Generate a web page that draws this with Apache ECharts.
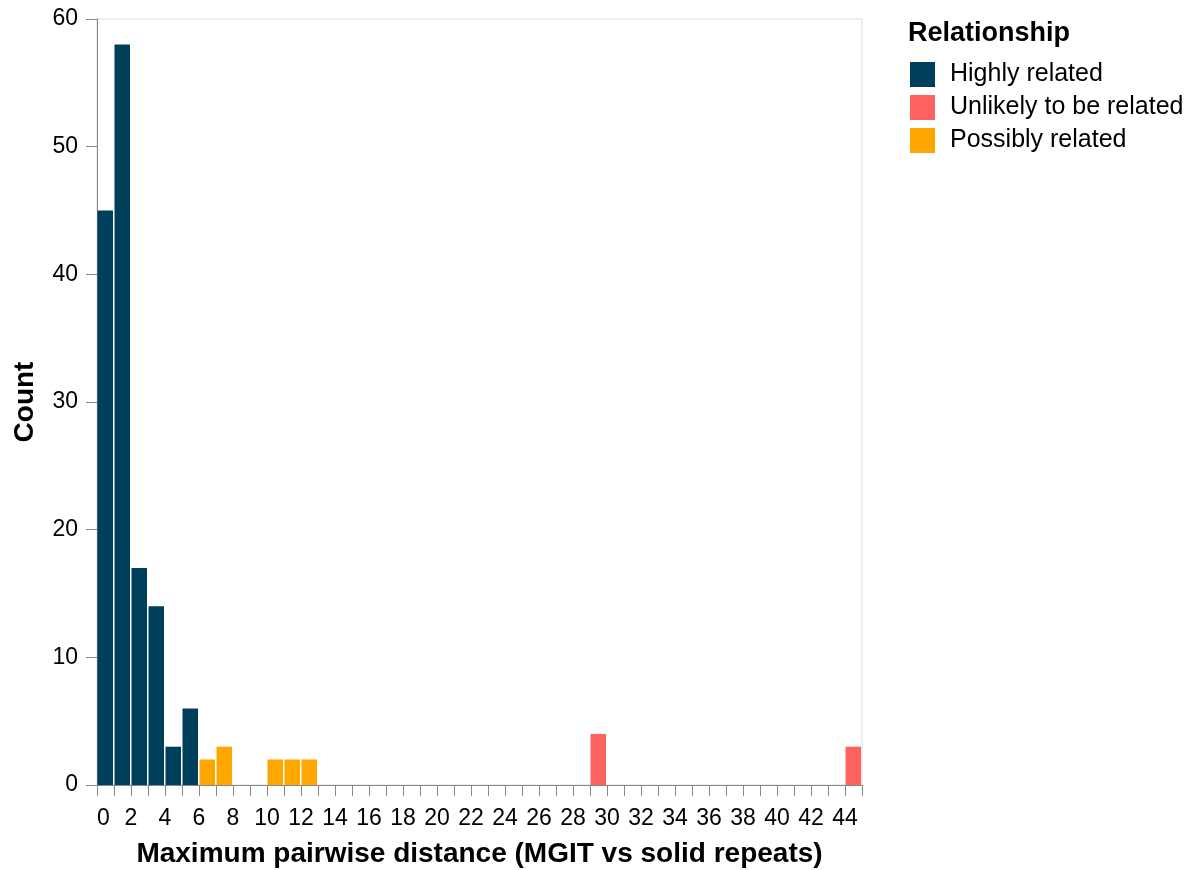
<!DOCTYPE html>
<html><head><meta charset="utf-8">
<script src="https://cdn.jsdelivr.net/npm/echarts@6/dist/echarts.min.js"></script>
<style>html,body{margin:0;padding:0;background:#fff}#c{width:1195px;height:870px}</style>
</head><body><div id="c"></div>
<script>
const seriesNames = ['Highly related', 'Unlikely to be related', 'Possibly related'];
const seriesColors = ['#003f5c', '#ff6361', '#ffa600'];
const highlyX = [0, 1, 2, 3, 4, 5];
const highlyY = [45, 58, 17, 14, 3, 6];
const unlikelyX = [29, 44];
const unlikelyY = [4, 3];
const possiblyX = [6, 7, 10, 11, 12];
const possiblyY = [2, 3, 2, 2, 2];
const xMin = 0, xMax = 45;
const yTicks = [0, 10, 20, 30, 40, 50, 60];

const font = 'Liberation Sans, Arial, Helvetica, sans-serif';
function pairs(xs, ys) { return xs.map((x, i) => [x, ys[i]]); }
function renderBin(params, api) {
  const x = api.value(0), y = api.value(1);
  const p0 = api.coord([x, y]);
  const p1 = api.coord([x + 1, 0]);
  return {
    type: 'rect',
    shape: { x: p0[0] + 0.5, y: p0[1], width: p1[0] - p0[0] - 1.5, height: p1[1] - p0[1] },
    style: { fill: api.visual('color') }
  };
}
const dataSets = [pairs(highlyX, highlyY), pairs(unlikelyX, unlikelyY), pairs(possiblyX, possiblyY)];
const chart = echarts.init(document.getElementById('c'), null, { renderer: 'canvas' });
chart.setOption({
  animation: false,
  backgroundColor: '#fff',
  color: seriesColors,
  title: {
    text: 'Relationship', left: 908, top: 20, padding: 0,
    textStyle: { fontFamily: font, fontSize: 27, fontWeight: 'bold', color: '#000' }
  },
  legend: {
    orient: 'vertical', left: 910, top: 62, padding: 0,
    itemWidth: 25, itemHeight: 25, itemGap: 8, icon: 'rect',
    data: seriesNames,
    textStyle: { fontFamily: font, fontSize: 25, color: '#000', padding: [0, 0, 0, 10] }
  },
  grid: {
    left: 97, right: 333, top: 19, bottom: 85, containLabel: false, outerBoundsMode: 'none',
    show: true, borderColor: '#ddd', borderWidth: 1
  },
  xAxis: {
    type: 'value', min: xMin, max: xMax, interval: 1,
    name: 'Maximum pairwise distance (MGIT vs solid repeats)',
    nameLocation: 'middle', nameGap: 55,
    nameTextStyle: { fontFamily: font, fontSize: 28, fontWeight: 'bold', color: '#000' },
    axisLine: { show: true, lineStyle: { color: '#888', width: 1 } },
    axisTick: { show: true, length: 11, lineStyle: { color: '#888' } },
    splitLine: { show: false },
    axisLabel: {
      fontFamily: font, fontSize: 23, color: '#000', margin: 22,
      alignMinLabel: 'left',
      formatter: v => (v % 2 === 0 && v <= 44) ? String(v) : ''
    }
  },
  yAxis: {
    type: 'value', min: yTicks[0], max: yTicks[yTicks.length - 1], interval: 10,
    name: 'Count', nameLocation: 'middle', nameGap: 58, nameRotate: 90,
    nameTextStyle: { fontFamily: font, fontSize: 28, fontWeight: 'bold', color: '#000' },
    axisLine: { show: true, lineStyle: { color: '#888', width: 1 } },
    axisTick: { show: true, length: 11, lineStyle: { color: '#888' } },
    splitLine: { show: false },
    axisLabel: { fontFamily: font, fontSize: 23, color: '#000', margin: 19 }
  },
  series: seriesNames.map((n, i) => ({
    name: n, type: 'custom', renderItem: renderBin,
    itemStyle: { color: seriesColors[i] },
    encode: { x: 0, y: 1 },
    data: dataSets[i]
  }))
});
</script></body></html>
